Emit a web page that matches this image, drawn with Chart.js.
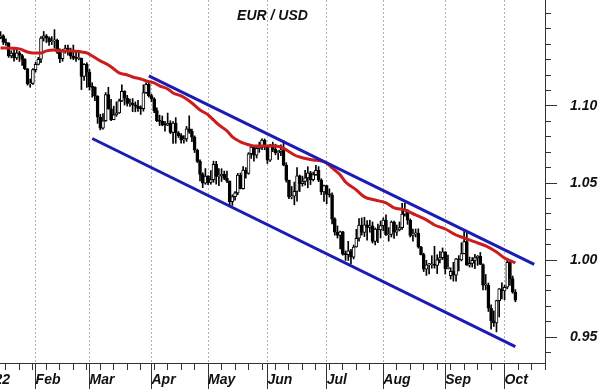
<!DOCTYPE html>
<html><head><meta charset="utf-8">
<script src="https://cdn.jsdelivr.net/npm/chart.js@4.4.1/dist/chart.umd.min.js"></script>
<style>
html,body{margin:0;padding:0;background:#fff;overflow:hidden;width:600px;height:389px;}
#wrap{position:absolute;left:-21px;top:0;width:621px;height:389px;}
#title{position:absolute;left:0;top:7px;width:545px;text-align:center;font:italic bold 14px "Liberation Sans",Arial,sans-serif;color:#111;}
</style></head><body>
<div id="wrap"><canvas id="c" width="621" height="389"></canvas></div>
<div id="title">EUR / USD</div>
<script>
// ---- axis categories (trading weekdays) ----
const CATEGORY_FIRST = '2022-01-03';
const CATEGORY_LAST = '2022-10-24';
const FIRST_CANDLE = '2022-01-13';
const monthStarts = ['2022-01-03','2022-02-01','2022-03-01','2022-04-01','2022-05-02','2022-06-01','2022-07-01','2022-08-01','2022-09-01','2022-10-03'];
const monthLabels = ['2022','Feb','Mar','Apr','May','Jun','Jul','Aug','Sep','Oct'];
const yTicks = [0.94,0.95,0.96,0.97,0.98,0.99,1.00,1.01,1.02,1.03,1.04,1.05,1.06,1.07,1.08,1.09,1.10,1.11,1.12,1.13,1.14,1.15,1.16];
const yMajor = [0.95,1.00,1.05,1.10];
const yMin = 0.9333, yMax = 1.1687;

// ---- daily OHLC (Jan 13 .. Oct 7, 2022) ----
const open = [
 1.1443,1.1454,1.1413,1.1408,1.1325,1.1343,1.1311,1.1344,1.1327,1.1302,1.1241,1.1143,1.1146,
 1.1235,1.1270,1.1303,1.1440,1.1455,1.1440,1.1416,1.1422,1.1426,1.1349,1.1306,1.1357,1.1376,1.1362,1.1322,1.1309,1.1308,1.1308,1.1192,1.1270,
 1.1219,1.1125,1.1120,1.1063,1.0927,1.0856,1.0904,1.1073,1.0982,1.0911,1.0943,1.0955,1.1033,1.1094,1.1051,1.1016,1.1018,1.1007,1.0998,1.0984,1.0983,1.1086,1.1140,
 1.1067,1.1046,1.0970,1.0904,1.0900,1.0877,1.0876,1.0888,1.0828,1.0889,1.0826,1.0808,1.0779,1.0786,1.0852,1.0835,1.0798,1.0713,1.0640,1.0556,1.0499,
 1.0545,1.0504,1.0522,1.0621,1.0543,1.0547,1.0557,1.0530,1.0512,1.0380,1.0412,1.0436,1.0552,1.0463,1.0584,1.0562,1.0690,1.0733,1.0680,1.0725,1.0733,1.0779,
 1.0733,1.0648,1.0748,1.0718,1.0697,1.0705,1.0716,1.0616,1.0518,1.0410,1.0415,1.0446,1.0546,1.0496,1.0510,1.0534,1.0567,1.0522,1.0555,1.0583,1.0519,1.0443,
 1.0484,1.0427,1.0424,1.0266,1.0182,1.0161,1.0183,1.0039,1.0036,1.0061,1.0019,1.0085,1.0142,1.0228,1.0180,1.0229,1.0212,1.0222,1.0122,1.0201,1.0196,
 1.0224,1.0260,1.0163,1.0167,1.0247,1.0181,1.0196,1.0211,1.0298,1.0320,1.0259,1.0160,1.0170,1.0176,1.0085,1.0036,0.9941,0.9969,0.9970,0.9974,0.9965,1.0002,1.0016,
 1.0054,0.9944,0.9900,0.9927,0.9903,1.0009,1.0002,1.0042,1.0121,0.9967,0.9979,0.9998,1.0016,1.0026,0.9972,0.9837,0.9837,0.9688,0.9606,0.9593,0.9738,0.9814,
 0.9801,0.9824,0.9986,0.9880,0.9793
];
const high = [
 1.1482,1.1462,1.1435,1.1411,1.1358,1.1370,1.1363,1.1355,1.1334,1.1307,1.1243,1.1175,1.1243,
 1.1283,1.1315,1.1449,1.1483,1.1463,1.1448,1.1449,1.1495,1.1433,1.1370,1.1367,1.1394,1.1395,1.1375,1.1395,1.1360,1.1344,1.1310,1.1274,1.1280,
 1.1237,1.1150,1.1124,1.1067,1.0946,1.0951,1.1087,1.1121,1.1043,1.0998,1.1026,1.1044,1.1137,1.1099,1.1069,1.1044,1.1048,1.1026,1.1036,1.1001,1.1137,1.1150,1.1158,
 1.1076,1.1054,1.0987,1.0940,1.0935,1.0900,1.0954,1.0904,1.0898,1.0924,1.0834,1.0820,1.0807,1.0867,1.0936,1.0850,1.0806,1.0720,1.0651,1.0567,1.0594,
 1.0549,1.0581,1.0642,1.0641,1.0593,1.0593,1.0578,1.0577,1.0514,1.0424,1.0444,1.0563,1.0565,1.0607,1.0600,1.0697,1.0748,1.0738,1.0735,1.0765,1.0787,1.0786,
 1.0738,1.0750,1.0765,1.0752,1.0710,1.0748,1.0774,1.0632,1.0520,1.0478,1.0506,1.0601,1.0552,1.0545,1.0583,1.0606,1.0576,1.0571,1.0615,1.0606,1.0528,1.0487,
 1.0486,1.0462,1.0437,1.0275,1.0222,1.0188,1.0187,1.0060,1.0122,1.0070,1.0098,1.0200,1.0269,1.0274,1.0278,1.0257,1.0259,1.0248,1.0209,1.0234,1.0254,
 1.0274,1.0294,1.0211,1.0254,1.0253,1.0228,1.0248,1.0369,1.0368,1.0328,1.0268,1.0202,1.0202,1.0203,1.0090,1.0045,0.9999,0.9980,1.0029,1.0090,1.0035,1.0055,1.0079,
 1.0055,1.0033,0.9950,0.9986,1.0012,1.0029,1.0113,1.0198,1.0187,1.0020,1.0017,1.0037,1.0030,1.0050,0.9976,0.9907,0.9852,0.9710,0.9671,0.9740,0.9816,0.9853,
 0.9837,0.9999,0.9997,0.9897,0.9809
];
const low = [
 1.1436,1.1398,1.1393,1.1315,1.1312,1.1290,1.1301,1.1288,1.1262,1.1235,1.1135,1.1121,1.1140,
 1.1220,1.1266,1.1280,1.1420,1.1411,1.1392,1.1398,1.1375,1.1340,1.1280,1.1290,1.1342,1.1330,1.1305,1.1300,1.1288,1.1299,1.1106,1.1165,1.1120,
 1.1103,1.1057,1.1034,1.0887,1.0845,1.0850,1.0900,1.0978,1.0904,1.0910,1.0933,1.0951,1.1027,1.1006,1.0999,1.0997,1.0963,1.0962,1.0965,1.0945,1.0966,1.1081,1.1057,
 1.1027,1.0956,1.0898,1.0873,1.0871,1.0837,1.0872,1.0821,1.0757,1.0758,1.0795,1.0758,1.0758,1.0770,1.0822,1.0768,1.0698,1.0633,1.0514,1.0470,1.0492,
 1.0490,1.0492,1.0505,1.0493,1.0483,1.0510,1.0522,1.0502,1.0350,1.0355,1.0389,1.0424,1.0462,1.0460,1.0532,1.0557,1.0660,1.0642,1.0662,1.0699,1.0716,1.0716,
 1.0627,1.0641,1.0703,1.0683,1.0653,1.0677,1.0612,1.0506,1.0398,1.0397,1.0359,1.0383,1.0445,1.0480,1.0486,1.0469,1.0490,1.0513,1.0549,1.0509,1.0425,1.0381,
 1.0366,1.0409,1.0235,1.0162,1.0143,1.0072,1.0033,0.9998,0.9998,0.9975,1.0008,1.0084,1.0123,1.0162,1.0153,1.0130,1.0181,1.0111,1.0099,1.0113,1.0144,
 1.0190,1.0160,1.0123,1.0150,1.0141,1.0160,1.0190,1.0200,1.0285,1.0232,1.0150,1.0123,1.0150,1.0078,1.0034,0.9926,0.9901,0.9910,0.9948,0.9948,0.9913,0.9982,1.0004,
 0.9910,0.9943,0.9877,0.9864,0.9864,0.9930,0.9995,1.0040,0.9966,0.9955,0.9955,0.9944,0.9966,0.9971,0.9807,0.9807,0.9667,0.9553,0.9570,0.9535,0.9632,0.9749,
 0.9743,0.9814,0.9836,0.9785,0.9730
];
const close = [
 1.1454,1.1413,1.1408,1.1325,1.1343,1.1311,1.1344,1.1327,1.1302,1.1241,1.1143,1.1146,1.1235,
 1.1270,1.1303,1.1440,1.1455,1.1440,1.1416,1.1422,1.1426,1.1349,1.1306,1.1357,1.1376,1.1362,1.1322,1.1309,1.1308,1.1308,1.1192,1.1270,1.1219,
 1.1125,1.1120,1.1063,1.0927,1.0856,1.0904,1.1073,1.0982,1.0911,1.0943,1.0955,1.1033,1.1094,1.1051,1.1016,1.1018,1.1007,1.0998,1.0984,1.0983,1.1086,1.1140,1.1067,
 1.1046,1.0970,1.0904,1.0900,1.0877,1.0876,1.0888,1.0828,1.0889,1.0826,1.0808,1.0779,1.0786,1.0852,1.0835,1.0798,1.0713,1.0640,1.0556,1.0499,1.0545,
 1.0504,1.0522,1.0621,1.0543,1.0547,1.0557,1.0530,1.0512,1.0380,1.0412,1.0436,1.0552,1.0463,1.0584,1.0562,1.0690,1.0733,1.0680,1.0725,1.0733,1.0779,1.0733,
 1.0648,1.0748,1.0718,1.0697,1.0705,1.0716,1.0616,1.0518,1.0410,1.0415,1.0446,1.0546,1.0496,1.0510,1.0534,1.0567,1.0522,1.0555,1.0583,1.0519,1.0443,1.0484,
 1.0427,1.0424,1.0266,1.0182,1.0161,1.0183,1.0039,1.0036,1.0061,1.0019,1.0085,1.0142,1.0228,1.0180,1.0229,1.0212,1.0222,1.0122,1.0201,1.0196,1.0224,
 1.0260,1.0163,1.0167,1.0247,1.0181,1.0196,1.0211,1.0298,1.0320,1.0259,1.0160,1.0170,1.0176,1.0085,1.0036,0.9941,0.9969,0.9970,0.9974,0.9965,1.0002,1.0016,1.0054,
 0.9944,0.9955,0.9927,0.9903,1.0009,1.0002,1.0042,1.0121,0.9967,0.9979,0.9998,1.0016,1.0026,0.9972,0.9837,0.9837,0.9688,0.9606,0.9593,0.9738,0.9814,0.9801,
 0.9824,0.9986,0.9880,0.9793,0.9741
];

// ---- moving average (red) ----
const maDates = ['2022-01-13','2022-01-24','2022-01-27','2022-01-31','2022-02-03','2022-02-07','2022-02-10','2022-02-14','2022-02-17','2022-02-21','2022-02-24','2022-02-28',
 '2022-03-02','2022-03-07','2022-03-10','2022-03-14','2022-03-16','2022-03-21','2022-03-23','2022-03-28','2022-03-30','2022-04-04','2022-04-06','2022-04-11','2022-04-13',
 '2022-04-18','2022-04-20','2022-04-22','2022-04-27','2022-05-02','2022-05-04','2022-05-06','2022-05-11','2022-05-13','2022-05-18','2022-05-20','2022-05-25','2022-05-27',
 '2022-06-01','2022-06-03','2022-06-08','2022-06-10','2022-06-15','2022-06-17','2022-06-22','2022-06-24','2022-06-29','2022-07-01','2022-07-05','2022-07-08','2022-07-12',
 '2022-07-18','2022-07-21','2022-07-27','2022-08-02','2022-08-05','2022-08-11','2022-08-17','2022-08-23','2022-08-26','2022-09-01','2022-09-07','2022-09-12','2022-09-16',
 '2022-09-22','2022-09-28','2022-10-03','2022-10-07'];
const maValues = [1.1376,1.1370,1.1350,1.1344,1.1344,1.1357,1.1363,1.1357,1.1357,1.1357,1.1350,1.1344,
 1.1324,1.1292,1.1266,1.1240,1.1214,1.1201,1.1188,1.1175,1.1162,1.1149,1.1130,1.1110,1.1084,
 1.1065,1.1045,1.1019,1.0974,1.0942,1.0909,1.0877,1.0838,1.0799,1.0767,1.0754,1.0741,1.0741,
 1.0741,1.0741,1.0734,1.0715,1.0682,1.0669,1.0656,1.0650,1.0643,1.0630,1.0598,1.0553,1.0507,
 1.0455,1.0410,1.0390,1.0371,1.0339,1.0326,1.0293,1.0261,1.0228,1.0202,1.0163,1.0144,1.0118,
 1.0092,1.0053,1.0014,0.9982];

// ---- channel lines (blue) ----
const upperDates = ['2022-03-31','2022-10-18'], upperValues = [1.1195, 0.9972];
const lowerDates = ['2022-03-02','2022-10-07'], lowerValues = [1.0789, 0.9439];

// ---- build ----
function weekdays(a, b){
  const out = []; const d = new Date(a + 'T00:00:00Z'); const end = new Date(b + 'T00:00:00Z');
  while (d <= end){ const w = d.getUTCDay(); if (w !== 0 && w !== 6) out.push(d.toISOString().slice(0,10)); d.setUTCDate(d.getUTCDate() + 1); }
  return out;
}
const labels = weekdays(CATEGORY_FIRST, CATEGORY_LAST);
const off = labels.indexOf(FIRST_CANDLE);
const n = close.length;
if (open.length !== n || high.length !== n || low.length !== n) console.error('length mismatch', open.length, high.length, low.length, n);

const wicks = labels.map((d, k) => { const i = k - off; return (i >= 0 && i < n) ? [low[i], high[i]] : null; });
const bodies = labels.map((d, k) => { const i = k - off; return (i >= 0 && i < n) ? [Math.min(open[i], close[i]), Math.max(open[i], close[i])] : null; });
const bodyColors = labels.map((d, k) => { const i = k - off; return (i >= 0 && i < n && close[i] >= open[i]) ? '#ffffff' : '#000000'; });
function lineData(dates, values){ const m = {}; dates.forEach((d, i) => m[d] = values[i]); return labels.map(d => (d in m) ? m[d] : null); }

const isMonthStart = i => monthStarts.includes(labels[i]);
const isMonday = i => labels[i] && new Date(labels[i] + 'T00:00:00Z').getUTCDay() === 1;
const isMajor = v => yMajor.some(m => Math.abs(m - v) < 1e-6);
const axisFont = {family: "'Liberation Sans', Arial, sans-serif", size: 14, weight: 'bold', style: 'italic'};
const CLEAR = 'rgba(0,0,0,0)';

new Chart(document.getElementById('c'), {
  type: 'bar',
  data: {
    labels,
    datasets: [
      {type: 'line', label: 'upper', data: lineData(upperDates, upperValues), borderColor: '#1c1cb4', borderWidth: 3, pointRadius: 0, spanGaps: true, order: 0, xAxisID: 'x', yAxisID: 'y'},
      {type: 'line', label: 'lower', data: lineData(lowerDates, lowerValues), borderColor: '#1c1cb4', borderWidth: 3, pointRadius: 0, spanGaps: true, order: 0, xAxisID: 'x', yAxisID: 'y'},
      {type: 'line', label: 'MA', data: lineData(maDates, maValues), borderColor: '#cc1c1c', borderWidth: 3, pointRadius: 0, spanGaps: true, cubicInterpolationMode: 'monotone', order: 1, xAxisID: 'x', yAxisID: 'y'},
      {type: 'bar', label: 'body', data: bodies, backgroundColor: bodyColors, borderColor: '#000', borderWidth: 1, borderSkipped: false, barThickness: 3, minBarLength: 1, grouped: false, order: 2, xAxisID: 'x', yAxisID: 'y'},
      {type: 'bar', label: 'wick', data: wicks, backgroundColor: '#000', borderWidth: 0, barThickness: 1, grouped: false, order: 3, xAxisID: 'x', yAxisID: 'y'}
    ]
  },
  options: {
    responsive: false, animation: false, devicePixelRatio: 1,
    layout: {padding: 0, autoPadding: false},
    plugins: {legend: {display: false}, tooltip: {enabled: false}, title: {display: false}},
    scales: {
      x: {
        type: 'category', position: 'bottom', offset: false, bounds: 'ticks',
        grid: {offset: false, color: c => isMonthStart(c.index) ? '#b0b0b0' : CLEAR, lineWidth: 1,
               drawTicks: true, tickLength: 7, tickColor: c => isMonday(c.index) ? '#333' : CLEAR, tickBorderDash: [], tickWidth: 1},
        border: {display: true, color: '#333', width: 1, dash: [2, 2]},
        ticks: {autoSkip: false, maxRotation: 0, minRotation: 0, align: 'start', padding: 2, color: '#111', font: axisFont,
                callback: (v, i) => { const k = monthStarts.indexOf(labels[i]); return k >= 0 ? monthLabels[k] : ''; }},
        afterFit: s => { s.height = 26; s.paddingLeft = 0; s.paddingRight = 0; }
      },
      xm: {
        type: 'category', axis: 'x', position: {y: yMin}, offset: false, bounds: 'ticks',
        grid: {offset: false, drawOnChartArea: false, drawTicks: true, tickLength: 26, tickColor: c => isMonthStart(c.index) ? '#333' : CLEAR, tickWidth: 1, tickBorderDash: []},
        border: {display: false}, ticks: {display: false, autoSkip: false},
        afterFit: s => { s.paddingLeft = 0; s.paddingRight = 0; }
      },
      y: {
        type: 'linear', position: 'right', min: yMin, max: yMax,
        afterBuildTicks: s => { s.ticks = yTicks.map(v => ({value: v})); },
        grid: {drawOnChartArea: false, drawTicks: true, tickLength: 12, tickColor: c => isMajor(c.tick.value) ? '#333' : CLEAR, tickWidth: 1},
        border: {display: true, color: '#333', width: 1},
        ticks: {autoSkip: false, padding: 13, color: '#111', font: axisFont, callback: v => isMajor(v) ? v.toFixed(2) : ''},
        afterFit: s => { s.width = 55; s.paddingTop = 0; s.paddingBottom = 0; }
      },
      y2: {
        type: 'linear', axis: 'y', position: {x: 212.2}, min: yMin, max: yMax,
        afterBuildTicks: s => { s.ticks = yTicks.map(v => ({value: v})); },
        grid: {drawOnChartArea: false, drawTicks: true, tickLength: 6, tickColor: '#333', tickWidth: 1},
        border: {display: false}, ticks: {display: false, autoSkip: false},
        afterFit: s => { s.paddingTop = 0; s.paddingBottom = 0; }
      }
    }
  }
});
</script></body></html>
